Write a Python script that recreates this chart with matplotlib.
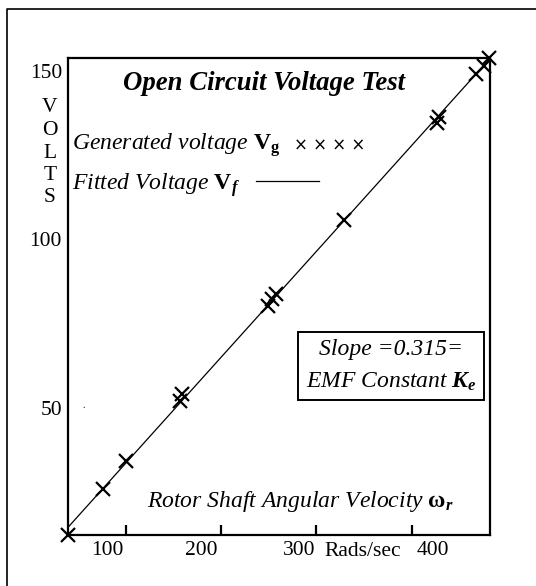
import matplotlib
matplotlib.use('Agg')
import matplotlib.pyplot as plt
import matplotlib.transforms as mtransforms
from matplotlib.lines import Line2D
import numpy as np

plt.rcParams['font.family'] = ['Liberation Serif', 'DejaVu Serif']
plt.rcParams['mathtext.fontset'] = 'custom'
plt.rcParams['mathtext.rm'] = 'Liberation Serif'
plt.rcParams['mathtext.it'] = 'Liberation Serif:italic'
plt.rcParams['mathtext.bf'] = 'Liberation Serif:bold'
plt.rcParams['mathtext.bfit'] = 'Liberation Serif:italic:bold'

# measured points: rotor speed (rad/s) and generated voltage (V)
omega = [39.6, 76.4, 100.5, 157.2, 159.3, 249.7, 253.9, 258.1, 328.5, 426.2, 428.3, 467.1, 475.5, 480.8]
volts = [12.1, 26.0, 34.3, 52.1, 54.1, 80.2, 82.2, 83.7, 105.6, 134.6, 136.4, 149.1, 151.5, 153.8]

x_ticks = [100, 200, 300, 400]
x_ticklabels = ['100', '200', '300', '400']
y_ticks = [50, 100, 150]
y_ticklabels = ['50', '100', '150']

W, H = 536, 586
fig = plt.figure(figsize=(W / 100, H / 100), dpi=100)

def fx(px):
    return px / W

def fy(py):
    return 1 - py / H

ax = fig.add_axes([fx(67.5), fy(535), fx(490) - fx(67.5), fy(58) - fy(535)])

# fitted line
coef = np.polyfit(omega, volts, 1)
xx = np.array([30, 490])
ax.plot(xx, np.polyval(coef, xx), color='black', lw=0.9)
ax.plot(omega, volts, ls='none', marker='x', ms=9.5, mew=1.6, color='black', clip_on=False)

ax.set_xlim(39, 482)
ax.set_ylim(12.2, 153.8)

for s in ax.spines.values():
    s.set_linewidth(1.6)

ax.set_xticks(x_ticks)
ax.set_xticklabels(x_ticklabels, fontsize=15.5)
ax.tick_params(axis='x', direction='in', length=7, width=1.6, pad=4)
ax.set_yticks(y_ticks)
ax.set_yticklabels(y_ticklabels, fontsize=15.5)
ax.tick_params(axis='y', length=0, pad=4)

# the x labels in the original sit beside their tick marks
shifts = [-18.5, -20, -17, 21]
for lab, dx in zip(ax.get_xticklabels(), shifts):
    lab.set_transform(lab.get_transform() + mtransforms.ScaledTranslation(dx / 100, 0, fig.dpi_scale_trans))

fig.text(fx(363), fy(551), 'Rads/sec', fontsize=15.5, ha='center', va='center')

# vertical VOLTS label
for i, ch in enumerate('VOLTS'):
    fig.text(fx(50), fy(108 + 22.5 * i), ch, fontsize=15.5, ha='center', va='center')

fig.text(fx(264), fy(90.5), 'Open Circuit Voltage Test', fontsize=19.3, fontweight='bold',
         fontstyle='italic', ha='center', va='baseline')
fig.text(fx(72), fy(150), r'Generated voltage $\mathbf{V}_\mathbf{g}$', fontsize=17,
         fontstyle='italic', ha='left', va='baseline')
fig.text(fx(294), fy(150), '× × × ×', fontsize=12, family='DejaVu Sans', ha='left', va='baseline')
fig.text(fx(72), fy(190), r'Fitted Voltage $\mathbf{V}_\mathbfit{f}$', fontsize=17,
         fontstyle='italic', ha='left', va='baseline')
fig.add_artist(Line2D([fx(256), fx(319)], [fy(181), fy(181)], color='black', lw=0.9))

fig.text(fx(391), fy(366), 'Slope =0.315=\nEMF Constant $\\mathbfit{K}_\\mathbfit{e}$', fontsize=17,
         fontstyle='italic', ha='center', va='center', linespacing=1.65,
         bbox=dict(boxstyle='square,pad=0.3', fc='white', ec='black', lw=1.4))

fig.text(fx(147), fy(507), r'Rotor Shaft Angular Velocity $\mathbf{\omega}_\mathbfit{r}$', fontsize=17,
         fontstyle='italic', ha='left', va='baseline')

fig.text(fx(84), fy(405), '.', fontsize=7, ha='center', va='center')

# outer frame of the figure
fig.add_artist(Line2D([fx(7), fx(7), fx(536)], [fy(586), fy(8.5), fy(8.5)], color='black', lw=1.2))

fig.savefig('out.png', dpi=100)
